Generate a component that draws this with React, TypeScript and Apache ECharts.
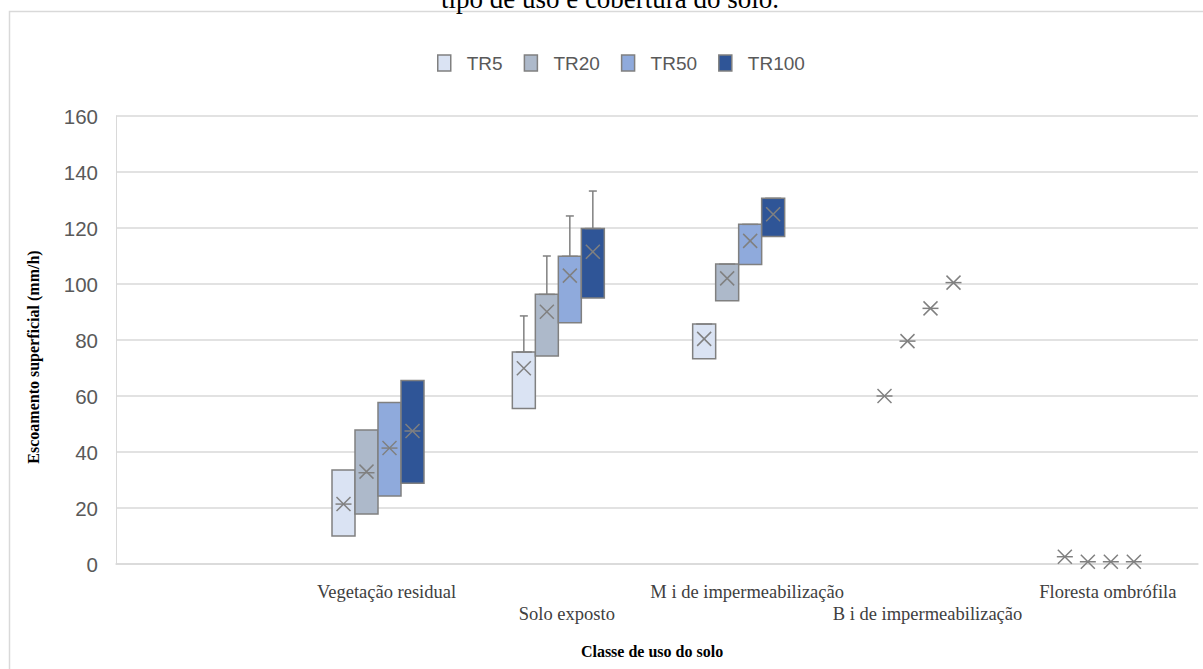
import React, { useEffect, useRef } from "react";
import * as echarts from "echarts";

const categories = ["", "Vegetação residual", "Solo exposto", "M i de impermeabilização", "B i de impermeabilização", "Floresta ombrófila"];
const seriesNames = ["TR5", "TR20", "TR50", "TR100"];
const seriesColors = ["#dae3f3", "#adb9ca", "#8faadc", "#2f5597"];
const yTicks = [0, 20, 40, 60, 80, 100, 120, 140, 160];

// per category (1..5): [min, q1, median, q3, max, mean]
const tr5Stats = [
  [10, 10, 21.4, 33.6, 33.6, 21.4],
  [55.5, 55.5, 75.7, 75.7, 88.6, 69.9],
  [73.3, 73.3, 85.7, 85.7, 85.7, 80.4],
  [60, 60, 60, 60, 60, 60],
  [2.6, 2.6, 2.6, 2.6, 2.6, 2.6],
];
const tr20Stats = [
  [17.9, 17.9, 32.6, 47.9, 47.9, 33],
  [74.3, 74.3, 96.3, 96.3, 110, 90.1],
  [94, 94, 107.1, 107.1, 107.1, 102],
  [79.6, 79.6, 79.6, 79.6, 79.6, 79.6],
  [0.8, 0.8, 0.8, 0.8, 0.8, 0.8],
];
const tr50Stats = [
  [24.3, 24.3, 41.4, 57.7, 57.7, 41.4],
  [86.2, 86.2, 109.9, 109.9, 124.3, 103],
  [107, 107, 121.3, 121.3, 121.3, 115.4],
  [91.3, 91.3, 91.3, 91.3, 91.3, 91.3],
  [0.8, 0.8, 0.8, 0.8, 0.8, 0.8],
];
const tr100Stats = [
  [28.8, 28.8, 47.5, 65.5, 65.5, 47.5],
  [95, 95, 119.8, 119.8, 133.2, 111.5],
  [117, 117, 130.6, 130.6, 130.6, 124.9],
  [100.5, 100.5, 100.5, 100.5, 100.5, 100.5],
  [0.8, 0.8, 0.8, 0.8, 0.8, 0.8],
];
const allStats = [tr5Stats, tr20Stats, tr50Stats, tr100Stats];

const slotOffsets = [-43, -20, 3, 26];
const BOX_W = 23;
const GRAY = "#808080";
const SANS = "'Liberation Sans', Arial, sans-serif";
const SERIF = "'Liberation Serif', 'Times New Roman', serif";

export default function App() {
  const ref = useRef<HTMLDivElement>(null);
  useEffect(() => {
    if (!ref.current) return;
    const chart = echarts.init(ref.current, null, { renderer: "svg" });

    const series = seriesNames.map((name, si) => ({
      name,
      type: "custom",
      itemStyle: { color: seriesColors[si], borderColor: GRAY, borderWidth: 1.5 },
      encode: { x: 0, y: [1, 2, 3, 4, 5, 6] },
      data: allStats[si].map((s, ci) => [ci + 1, ...s]),
      renderItem: (params: any, api: any) => {
        const cat = api.value(0);
        const cx = api.coord([cat, 0])[0] + slotOffsets[si];
        const yMin = api.coord([cat, api.value(1)])[1];
        const yQ1 = api.coord([cat, api.value(2)])[1];
        const yMed = api.coord([cat, api.value(3)])[1];
        const yQ3 = api.coord([cat, api.value(4)])[1];
        const yMax = api.coord([cat, api.value(5)])[1];
        const yMean = api.coord([cat, api.value(6)])[1];
        const half = BOX_W / 2;
        const ls = { stroke: GRAY, lineWidth: 1.5 };
        const children: any[] = [];
        if (yMax < yQ3 - 0.5) {
          children.push({ type: "line", shape: { x1: cx, y1: yQ3, x2: cx, y2: yMax }, style: ls });
          children.push({ type: "line", shape: { x1: cx - 4, y1: yMax, x2: cx + 4, y2: yMax }, style: ls });
        }
        if (yMin > yQ1 + 0.5) {
          children.push({ type: "line", shape: { x1: cx, y1: yQ1, x2: cx, y2: yMin }, style: ls });
          children.push({ type: "line", shape: { x1: cx - 4, y1: yMin, x2: cx + 4, y2: yMin }, style: ls });
        }
        if (yQ1 - yQ3 > 0.5) {
          children.push({
            type: "rect",
            shape: { x: cx - half, y: yQ3, width: BOX_W, height: yQ1 - yQ3 },
            style: { fill: seriesColors[si], stroke: GRAY, lineWidth: 1.5 },
          });
        }
        children.push({ type: "line", shape: { x1: cx - 8, y1: yMed, x2: cx + 8, y2: yMed }, style: ls });
        const m = 7;
        children.push({ type: "line", shape: { x1: cx - m, y1: yMean - m, x2: cx + m, y2: yMean + m }, style: ls });
        children.push({ type: "line", shape: { x1: cx - m, y1: yMean + m, x2: cx + m, y2: yMean - m }, style: ls });
        return { type: "group", children };
      },
    }));

    chart.setOption({
      animation: false,
      backgroundColor: "#ffffff",
      legend: {
        left: 432,
        top: 46,
        icon: "rect",
        itemWidth: 13,
        itemHeight: 16,
        itemGap: 21,
        data: seriesNames.map((n, i) => ({
          name: n,
          itemStyle: { color: seriesColors[i], borderColor: GRAY, borderWidth: 1.5 },
        })),
        textStyle: { fontFamily: SANS, fontSize: 19, color: "#595959", padding: [0, 0, 0, 11], lineHeight: 24 },
      },
      grid: { left: 116, right: 5, top: 116, bottom: 105 },
      xAxis: {
        type: "category",
        data: categories,
        boundaryGap: true,
        axisTick: { show: false },
        axisLine: { show: true, lineStyle: { color: "#d9d9d9", width: 1.5 } },
        splitLine: { show: false },
        axisLabel: {
          interval: 0,
          margin: 17,
          fontFamily: SERIF,
          fontSize: 18.5,
          lineHeight: 22,
          color: "#404040",
          formatter: (v: string, idx: number) => (idx === 2 || idx === 4 ? "\n" + v : v),
        },
      },
      yAxis: {
        type: "value",
        min: yTicks[0],
        max: yTicks[yTicks.length - 1],
        interval: yTicks[1] - yTicks[0],
        axisLine: { show: true, lineStyle: { color: "#d9d9d9" } },
        axisTick: { show: false },
        splitLine: { lineStyle: { color: "#d9d9d9", width: 1.5 } },
        axisLabel: { fontFamily: SANS, fontSize: 20.5, color: "#595959", margin: 18 },
      },
      graphic: [
        {
          type: "rect",
          shape: { x: 9.5, y: 11.5, width: 1400, height: 900 },
          style: { fill: "none", stroke: "#d9d9d9", lineWidth: 1.5 },
          silent: true,
        },
        {
          type: "text",
          x: 610,
          y: -1,
          style: { text: "tipo de uso e cobertura do solo.", font: `27px ${SERIF}`, fill: "#000", align: "center", verticalAlign: "middle" },
        },
        {
          type: "text",
          x: 33,
          y: 357,
          rotation: Math.PI / 2,
          style: { text: "Escoamento superficial (mm/h)", font: `bold 16px ${SERIF}`, fill: "#000", align: "center", verticalAlign: "middle" },
        },
        {
          type: "text",
          x: 652,
          y: 651,
          style: { text: "Classe de uso do solo", font: `bold 16px ${SERIF}`, fill: "#000", align: "center", verticalAlign: "middle" },
        },
      ],
      series,
    });
    return () => chart.dispose();
  }, []);
  return <div ref={ref} style={{ position: "fixed", left: 0, top: 0, width: 1203, height: 669 }} />;
}
